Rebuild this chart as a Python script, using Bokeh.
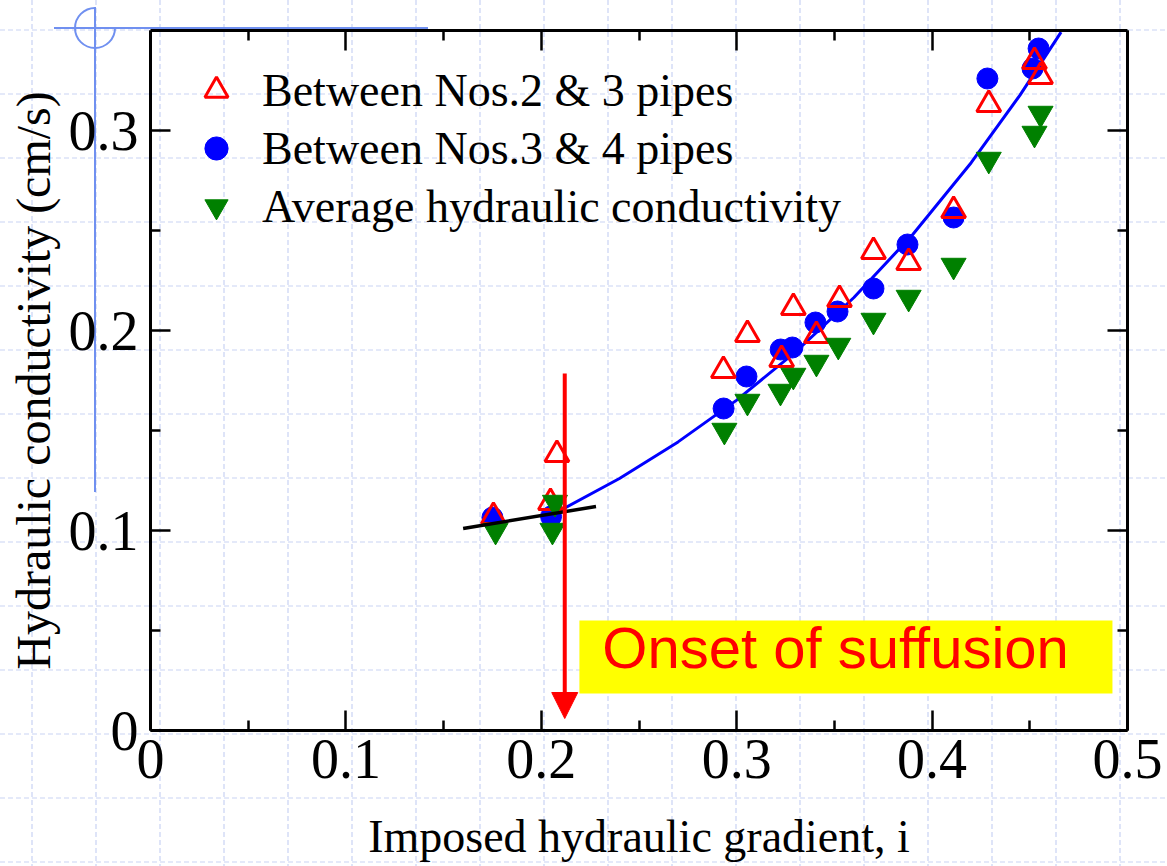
import base64
from bokeh.plotting import figure
from bokeh.models import (LinearAxis, Range1d, Legend, LegendItem, Arrow, NormalHead,
                          BoxAnnotation, Label, FixedTicker, CustomLabelingPolicy)
from bokeh.embed import file_html
from bokeh.resources import INLINE

# ---------------- data ----------------
x_23 = [0.1755, 0.2047, 0.208, 0.2932, 0.3055, 0.323, 0.329, 0.3408, 0.3526,
        0.370, 0.388, 0.411, 0.429, 0.4524, 0.4555]
y_23 = [0.107, 0.114, 0.138, 0.180, 0.198, 0.1855, 0.2115, 0.1975, 0.2155,
        0.2395, 0.234, 0.260, 0.313, 0.3345, 0.327]

x_34 = [0.175, 0.205, 0.2933, 0.305, 0.3225, 0.3285, 0.3403, 0.3516, 0.370,
        0.3874, 0.411, 0.4283, 0.4514, 0.4545]
y_34 = [0.1065, 0.107, 0.161, 0.177, 0.1905, 0.1915, 0.204, 0.2095, 0.221,
        0.243, 0.2565, 0.326, 0.331, 0.341]

x_avg = [0.1766, 0.2057, 0.207, 0.2937, 0.3055, 0.3224, 0.329, 0.3408, 0.352,
         0.370, 0.388, 0.411, 0.429, 0.4524, 0.4555]
y_avg = [0.100, 0.100, 0.114, 0.150, 0.1645, 0.1695, 0.1775, 0.184, 0.1925,
         0.205, 0.2165, 0.2325, 0.2855, 0.2985, 0.3085]

fit_x = [0.207, 0.24, 0.27, 0.30, 0.33, 0.36, 0.39, 0.42, 0.445, 0.466]
fit_y = [0.1086, 0.126, 0.1443, 0.1652, 0.1892, 0.2165, 0.2479, 0.2839, 0.3177, 0.3492]

pre_x = [0.160, 0.228]
pre_y = [0.101, 0.112]

onset_x = 0.212

x_ticks = [0, 0.1, 0.2, 0.3, 0.4, 0.5]
x_tick_labels = ["0", "0.1", "0.2", "0.3", "0.4", "0.5"]
x_minor = [0.05, 0.15, 0.25, 0.35, 0.45]
y_ticks = [0, 0.1, 0.2, 0.3]
y_tick_labels = ["0", "0.1", "0.2", "0.3"]
y_minor = [0.05, 0.15, 0.25]

x_title = "Imposed hydraulic gradient, i"
y_title = "Hydraulic conductivity (cm/s)"

SERIF = "Liberation Serif"

# ---------------- figure ----------------
p = figure(width=1167, height=866, x_range=Range1d(0, 0.5), y_range=Range1d(0, 0.35),
           output_backend="svg", toolbar_location=None,
           min_border_left=150, min_border_right=40, min_border_top=30, min_border_bottom=136,
           background_fill_color=None, border_fill_color=None, outline_line_color=None)
p.xgrid.visible = False
p.ygrid.visible = False

p.add_layout(LinearAxis(), "above")
p.add_layout(LinearAxis(), "right")

for ax in p.xaxis:
    ax.ticker = FixedTicker(ticks=x_ticks, minor_ticks=x_minor)
    ax.major_label_overrides = dict(zip(x_ticks, x_tick_labels))
for ax in p.yaxis:
    ax.ticker = FixedTicker(ticks=y_ticks, minor_ticks=y_minor)
    ax.major_label_overrides = dict(zip(y_ticks, y_tick_labels))

for ax in p.xaxis + p.yaxis:
    ax.axis_line_width = 3
    ax.axis_line_color = "black"
    ax.major_tick_in = 20
    ax.major_tick_out = 0
    ax.minor_tick_in = 10
    ax.minor_tick_out = 0
    ax.major_tick_line_width = 2.5
    ax.minor_tick_line_width = 2.5
    ax.major_label_text_font = SERIF
    ax.major_label_text_font_size = "56px"
    ax.major_label_text_color = "black"
    ax.axis_label_text_font = SERIF
    ax.axis_label_text_font_style = "normal"
    ax.axis_label_text_color = "black"

# mirror axes (top / right): ticks only, no labels
for ax in (p.above[0], p.right[0]):
    ax.major_label_text_font_size = "1px"
    ax.major_label_standoff = 0
    ax.major_label_policy = CustomLabelingPolicy(code="return []")

xb = p.below[0]
xb.axis_label = x_title
xb.axis_label_text_font_size = "46px"
xb.major_label_standoff = 9
xb.axis_label_standoff = 30

yl = p.left[0]
yl.axis_label = y_title
yl.axis_label_text_font_size = "48px"
yl.major_label_standoff = 12
yl.axis_label_standoff = 6

# ---------------- glyphs ----------------
p.line(fit_x, fit_y, line_color="blue", line_width=3)
r34 = p.scatter(x_34, y_34, marker="circle", size=21, fill_color="blue", line_color="blue")
r23 = p.scatter(x_23, y_23, marker="triangle", size=24, fill_color=None,
                line_color="red", line_width=3)
ravg = p.scatter(x_avg, y_avg, marker="inverted_triangle", size=25,
                 fill_color="green", line_color="green")
p.line(pre_x, pre_y, line_color="black", line_width=3.5)

# yellow annotation box and text
p.add_layout(BoxAnnotation(left=0.2195, right=0.4923, bottom=0.0185, top=0.055,
                           fill_color="yellow", fill_alpha=1.0, line_color=None))
p.add_layout(Label(x=0.3506, y=0.0415, text="Onset of suffusion", text_align="center",
                   text_baseline="middle", text_color="red", text_font="Liberation Sans",
                   text_font_size="58px"))

# red arrow
p.add_layout(Arrow(end=NormalHead(size=26, fill_color="red", line_color="red", line_width=1),
                   x_start=onset_x, y_start=0.1785, x_end=onset_x, y_end=0.006,
                   line_color="red", line_width=4))

legend = Legend(items=[LegendItem(label="Between Nos.2 & 3 pipes", renderers=[r23]),
                       LegendItem(label="Between Nos.3 & 4 pipes", renderers=[r34]),
                       LegendItem(label="Average hydraulic conductivity", renderers=[ravg])],
                location=(37, 495), label_text_font=SERIF, label_text_font_size="46px",
                label_text_color="black",
                glyph_width=58, glyph_height=58, label_height=58, spacing=0, padding=0,
                label_standoff=17, border_line_color=None, background_fill_alpha=0)
p.add_layout(legend)

# ---------------- page background (slide grid decoration) ----------------
parts = ['<svg xmlns="http://www.w3.org/2000/svg" width="1167" height="866">']
for gx in range(32, 1167, 64):
    parts.append(f'<line x1="{gx}" y1="0" x2="{gx}" y2="866" stroke="#c9d3f3" '
                 'stroke-width="1.2" stroke-dasharray="5 3"/>')
for gy in range(30, 866, 64):
    parts.append(f'<line x1="0" y1="{gy}" x2="1167" y2="{gy}" stroke="#c9d3f3" '
                 'stroke-width="1.2" stroke-dasharray="5 3"/>')
parts.append('<line x1="95" y1="7" x2="95" y2="492" stroke="#7090f0" stroke-width="2"/>')
parts.append('<line x1="54" y1="28" x2="428" y2="28" stroke="#7090f0" stroke-width="2"/>')
parts.append('<path d="M 95 8 A 20 20 0 1 0 115 28" fill="none" stroke="#7090f0" stroke-width="2"/>')
parts.append('</svg>')
bg = base64.b64encode("".join(parts).encode()).decode()

html = file_html(p, INLINE, title="Hydraulic conductivity")
style = ('<style>html,body{margin:0;padding:0;background-color:white;'
         f'background-image:url("data:image/svg+xml;base64,{bg}");'
         'background-repeat:no-repeat;}</style>')
html = html.replace("</head>", style + "</head>", 1)
open("out.html", "w").write(html)
